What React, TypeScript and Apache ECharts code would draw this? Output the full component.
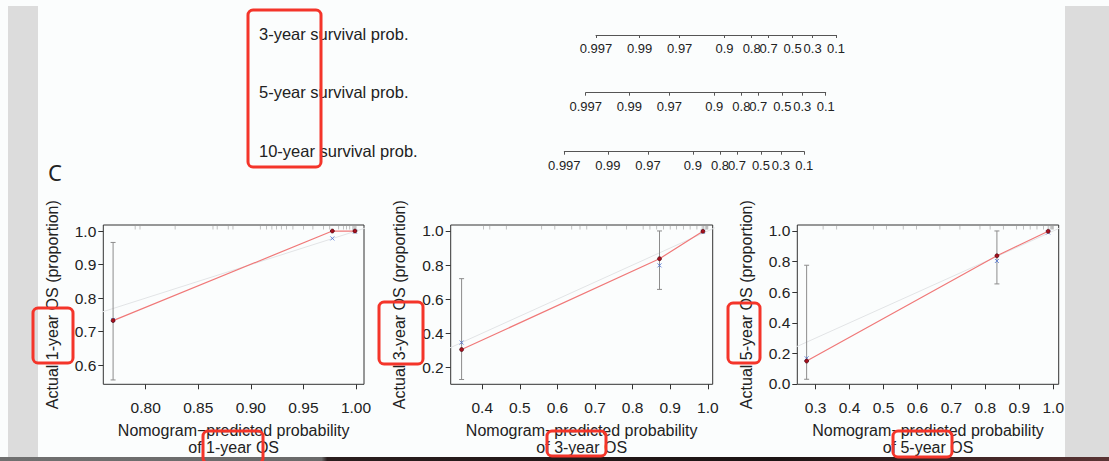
import React, { useEffect, useRef } from 'react';
import * as echarts from 'echarts';

// ---------- DATA ----------
const nomoRowLabels = ['3-year survival prob.', '5-year survival prob.', '10-year survival prob.'];
const nomoTickLabels = ['0.997', '0.99', '0.97', '0.9', '0.8', '0.7', '0.5', '0.3', '0.1'];

// Calibration 1-year
const cal1Pred = [0.769, 0.9775, 0.999];
const cal1Obs = [0.733, 1.0, 1.0];
const cal1Corr = [0.735, 0.978, 0.998];
const cal1ErrX = [0.769];
const cal1ErrLo = [0.556];
const cal1ErrHi = [0.966];
const cal1Rug = [0.79, 0.7946, 0.828, 0.864, 0.868, 0.8785, 0.883, 0.909, 0.915, 0.92, 0.9245, 0.929, 0.934, 0.94, 0.95, 0.959, 0.969, 0.975, 0.9835, 0.988, 0.991, 0.994, 0.997, 0.998, 0.999, 1.0];
const cal1XTicks = [0.8, 0.85, 0.9, 0.95, 1.0];
const cal1YTicks = [0.6, 0.7, 0.8, 0.9, 1.0];

// Calibration 3-year
const cal2Pred = [0.345, 0.8715, 0.987];
const cal2Obs = [0.304, 0.837, 0.998];
const cal2Corr = [0.345, 0.798, 0.995];
const cal2ErrX = [0.345, 0.8715];
const cal2ErrLo = [0.128, 0.657];
const cal2ErrHi = [0.72, 1.0];
const cal2Rug = [0.403, 0.42, 0.464, 0.558, 0.593, 0.638, 0.66, 0.678, 0.731, 0.784, 0.828, 0.846, 0.864, 0.882, 0.9, 0.917, 0.935, 0.953, 0.971, 0.985, 0.989, 0.993, 0.996, 0.998, 1.0];
const cal2XTicks = [0.4, 0.5, 0.6, 0.7, 0.8, 0.9, 1.0];
const cal2YTicks = [0.2, 0.4, 0.6, 0.8, 1.0];

// Calibration 5-year
const cal3Pred = [0.2735, 0.834, 0.985];
const cal3Obs = [0.15, 0.838, 0.998];
const cal3Corr = [0.168, 0.804, 0.99];
const cal3ErrX = [0.2735, 0.834];
const cal3ErrLo = [0.031, 0.654];
const cal3ErrHi = [0.776, 1.0];
const cal3Rug = [0.322, 0.362, 0.47, 0.509, 0.558, 0.597, 0.666, 0.725, 0.784, 0.814, 0.853, 0.892, 0.912, 0.932, 0.952, 0.971, 0.985, 0.991, 0.995, 0.998, 1.0];
const cal3XTicks = [0.3, 0.4, 0.5, 0.6, 0.7, 0.8, 0.9, 1.0];
const cal3YTicks = [0.0, 0.2, 0.4, 0.6, 0.8, 1.0];

const calYears = ['1-year', '3-year', '5-year'];

// ---------- LAYOUT / STYLE ----------
const FONT = '"Liberation Sans", Arial, Helvetica, sans-serif';
const W = 1109;
const H = 461;

const nomoLayout = [
  { left: 596, lineY: 35, labelY: 34 },
  { left: 585.7, lineY: 92.7, labelY: 92 },
  { left: 564.3, lineY: 151.7, labelY: 151 },
];
const nomoWidth = 240;

const calLayout = [
  { left: 103.3, width: 260.7, xMin: 0.7597, xMax: 1.0076, yMin: 0.543, yMax: 1.018, xDigits: 2 },
  { left: 450.7, width: 262, xMin: 0.316, xMax: 1.013, yMin: 0.1, yMax: 1.035, xDigits: 1 },
  { left: 797.3, width: 261.4, xMin: 0.246, xMax: 1.016, yMin: -0.002, yMax: 1.039, xDigits: 1 },
];
const calTop = 225;
const calHeight = 159.3;

const cals = [
  { pred: cal1Pred, obs: cal1Obs, corr: cal1Corr, ex: cal1ErrX, lo: cal1ErrLo, hi: cal1ErrHi, rug: cal1Rug, xt: cal1XTicks, yt: cal1YTicks },
  { pred: cal2Pred, obs: cal2Obs, corr: cal2Corr, ex: cal2ErrX, lo: cal2ErrLo, hi: cal2ErrHi, rug: cal2Rug, xt: cal2XTicks, yt: cal2YTicks },
  { pred: cal3Pred, obs: cal3Obs, corr: cal3Corr, ex: cal3ErrX, lo: cal3ErrLo, hi: cal3ErrHi, rug: cal3Rug, xt: cal3XTicks, yt: cal3YTicks },
];

const redBoxes = [
  { x: 248, y: 10, w: 73, h: 157 },
  { x: 33, y: 308, w: 40, h: 55 },
  { x: 203, y: 431, w: 60, h: 32 },
  { x: 379, y: 302, w: 44, h: 62 },
  { x: 547, y: 431, w: 59, h: 25 },
  { x: 728, y: 303, w: 32, h: 60 },
  { x: 893, y: 431, w: 59, h: 26 },
];

const cll = (p: number) => Math.log(-Math.log(p));

function buildOption() {
  const grid: any[] = [];
  const xAxis: any[] = [];
  const yAxis: any[] = [];
  const series: any[] = [];
  const graphic: any[] = [];

  // background pieces
  graphic.push({ type: 'rect', z: -10, silent: true, shape: { x: 8, y: 6, width: 30, height: 451 }, style: { fill: '#dcdcdc' } });
  graphic.push({ type: 'rect', z: -10, silent: true, shape: { x: 1065, y: 6, width: 44, height: 451 }, style: { fill: '#dcdcdc' } });
  graphic.push({
    type: 'rect', z: -10, silent: true, shape: { x: 0, y: 457, width: W, height: 4 },
    style: {
      fill: new echarts.graphic.LinearGradient(0, 0, 1, 0, [
        { offset: 0, color: '#707070' },
        { offset: 0.29, color: '#6a6a6a' },
        { offset: 0.295, color: '#2a1e1e' },
        { offset: 0.7, color: '#1c1414' },
        { offset: 1, color: '#5a3434' },
      ]),
    },
  });

  // nomogram axes
  const nomoVals = nomoTickLabels.map((s) => cll(parseFloat(s)));
  nomoLayout.forEach((L, i) => {
    grid.push({ left: L.left, top: L.lineY - 1, width: nomoWidth, height: 1, outerBoundsMode: 'none' });
    xAxis.push({
      gridIndex: i, type: 'value', position: 'bottom',
      min: nomoVals[0], max: nomoVals[nomoVals.length - 1],
      axisLine: { show: true, onZero: false, lineStyle: { color: '#555', width: 1 } },
      axisTick: { show: true, customValues: nomoVals, length: 3, lineStyle: { color: '#555' } },
      axisLabel: {
        show: true, customValues: nomoVals, margin: 7, fontSize: 13, color: '#222', fontFamily: FONT,
        formatter: (v: number) => {
          let best = 0;
          nomoVals.forEach((nv, k) => { if (Math.abs(nv - v) < Math.abs(nomoVals[best] - v)) best = k; });
          return nomoTickLabels[best];
        },
      },
      splitLine: { show: false },
    });
    yAxis.push({ gridIndex: i, type: 'value', show: false, min: 0, max: 1 });
    graphic.push({
      type: 'text', silent: true, x: 259, y: L.labelY,
      style: { text: nomoRowLabels[i], fontSize: 16.5, fontFamily: FONT, fill: '#222', align: 'left', verticalAlign: 'middle' },
    });
  });

  graphic.push({
    type: 'text', silent: true, x: 48, y: 172,
    style: { text: 'C', fontSize: 22, fontFamily: '"Noto Sans", sans-serif', fill: '#222', align: 'left', verticalAlign: 'middle' },
  });

  // calibration plots
  cals.forEach((c, k) => {
    const L = calLayout[k];
    const gi = 3 + k;
    grid.push({
      left: L.left, top: calTop, width: L.width, height: calHeight,
      show: true, borderColor: '#333', borderWidth: 1, backgroundColor: 'transparent', outerBoundsMode: 'none',
    });
    xAxis.push({
      gridIndex: gi, type: 'value', min: L.xMin, max: L.xMax, position: 'bottom',
      axisLine: { show: false, onZero: false },
      axisTick: { show: true, customValues: c.xt, length: 5, lineStyle: { color: '#333' } },
      axisLabel: { show: true, customValues: c.xt, margin: 15, fontSize: 15.5, color: '#222', fontFamily: FONT, formatter: (v: number) => v.toFixed(L.xDigits) },
      splitLine: { show: false },
    });
    yAxis.push({
      gridIndex: gi, type: 'value', min: L.yMin, max: L.yMax, position: 'left',
      axisLine: { show: false, onZero: false },
      axisTick: { show: true, customValues: c.yt, length: 5, lineStyle: { color: '#333' } },
      axisLabel: { show: true, customValues: c.yt, margin: 7, fontSize: 15.5, color: '#222', fontFamily: FONT, formatter: (v: number) => v.toFixed(1) },
      splitLine: { show: false },
    });

    // ideal line
    series.push({
      type: 'line', xAxisIndex: gi, yAxisIndex: gi, symbol: 'none', silent: true, clip: true,
      data: [[-0.1, -0.1], [1.1, 1.1]],
      lineStyle: { color: '#e2e4e6', width: 1 }, z: 2,
    });
    // rug
    series.push({
      type: 'scatter', xAxisIndex: gi, yAxisIndex: gi, silent: true, clip: false,
      data: c.rug.map((v) => [v, L.yMax]),
      symbol: 'rect', symbolSize: [0.8, 4], symbolOffset: [0, 2.5],
      itemStyle: { color: '#9a9a9a', opacity: 0.75 }, z: 2,
    });
    // error bars
    series.push({
      type: 'custom', xAxisIndex: gi, yAxisIndex: gi, silent: true, z: 3,
      data: c.ex.map((x, i) => [x, c.lo[i], c.hi[i]]),
      encode: { x: 0, y: [1, 2] },
      renderItem: (_p: any, api: any) => {
        const x = api.value(0);
        const a = api.coord([x, api.value(1)]);
        const b = api.coord([x, api.value(2)]);
        const cw = 2.5;
        const st = { stroke: '#8c8c8c', lineWidth: 1 };
        return {
          type: 'group',
          children: [
            { type: 'line', shape: { x1: a[0], y1: a[1], x2: b[0], y2: b[1] }, style: st },
            { type: 'line', shape: { x1: a[0] - cw, y1: a[1], x2: a[0] + cw, y2: a[1] }, style: st },
            { type: 'line', shape: { x1: b[0] - cw, y1: b[1], x2: b[0] + cw, y2: b[1] }, style: st },
          ],
        };
      },
    });
    // calibration curve
    series.push({
      type: 'line', xAxisIndex: gi, yAxisIndex: gi, silent: true,
      data: c.pred.map((x, i) => [x, c.obs[i]]),
      symbol: 'circle', symbolSize: 4, showSymbol: true,
      lineStyle: { color: '#f07878', width: 1.2 },
      itemStyle: { color: '#a8101e', borderColor: '#3a0008', borderWidth: 0.6 }, z: 5,
    });
    // bias-corrected points
    series.push({
      type: 'scatter', xAxisIndex: gi, yAxisIndex: gi, silent: true,
      data: c.pred.map((x, i) => [x, c.corr[i]]),
      symbol: 'path://M0,0L10,10M10,0L0,10', symbolSize: 4,
      itemStyle: { color: 'none', borderColor: '#4a6fd0', borderWidth: 1 }, z: 4,
    });

    // titles
    const cx = L.left + L.width / 2;
    graphic.push({
      type: 'text', silent: true, x: L.left - 51, y: calTop + calHeight / 2, rotation: Math.PI / 2,
      style: { text: `Actual ${calYears[k]} OS (proportion)`, fontSize: 16, fontFamily: FONT, fill: '#222', align: 'center', verticalAlign: 'middle' },
    });
    graphic.push({
      type: 'text', silent: true, x: cx, y: 430,
      style: { text: 'Nomogram\u2212predicted probability', fontSize: 16, fontFamily: FONT, fill: '#222', align: 'center', verticalAlign: 'middle' },
    });
    graphic.push({
      type: 'text', silent: true, x: cx, y: 447,
      style: { text: `of ${calYears[k]} OS`, fontSize: 16, fontFamily: FONT, fill: '#222', align: 'center', verticalAlign: 'middle' },
    });
  });

  // red annotation boxes
  redBoxes.forEach((b) => {
    graphic.push({
      type: 'rect', silent: true, z: 100,
      shape: { x: b.x, y: b.y, width: b.w, height: b.h, r: 5 },
      style: { fill: 'none', stroke: '#f4352a', lineWidth: 3 },
    });
  });

  return {
    animation: false,
    backgroundColor: '#fbfdfd',
    textStyle: { fontFamily: FONT },
    grid, xAxis, yAxis, series,
    graphic: { elements: graphic },
  };
}

export default function App() {
  const ref = useRef<HTMLDivElement>(null);
  useEffect(() => {
    if (!ref.current) return;
    const chart = echarts.init(ref.current, undefined, { renderer: 'svg', width: W, height: H });
    chart.setOption(buildOption() as any);
    return () => chart.dispose();
  }, []);
  return <div ref={ref} style={{ position: 'fixed', left: 0, top: 0, width: W, height: H }} />;
}
